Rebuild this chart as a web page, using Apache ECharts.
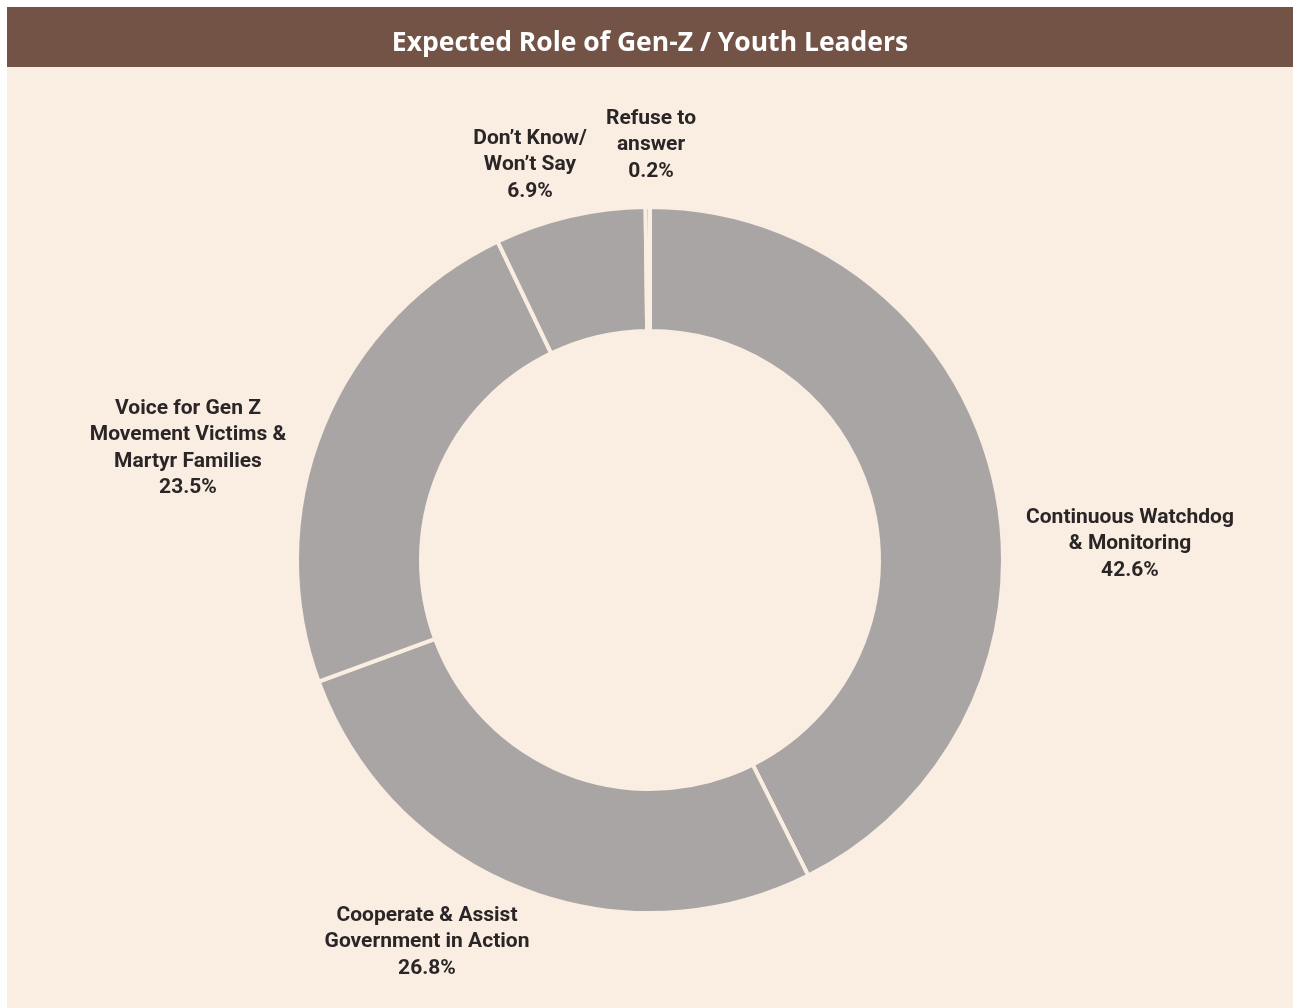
<!DOCTYPE html>
<html>
<head>
<meta charset="utf-8">
<title>Expected Role of Gen-Z / Youth Leaders</title>
<script src="https://cdn.jsdelivr.net/npm/echarts@6/dist/echarts.min.js"></script>
<style>
  html, body { margin: 0; padding: 0; background: #ffffff; }
  #roleChart { position: absolute; left: 7px; top: 7px; width: 1286px; height: 1001px; }
</style>
</head>
<body>
<div id="roleChart"></div>
<script>
const chartTitle = 'Expected Role of Gen-Z / Youth Leaders'
const roleNames = [
  'Continuous Watchdog\n& Monitoring',
  'Cooperate & Assist\nGovernment in Action',
  'Voice for Gen Z\nMovement Victims &\nMartyr Families',
  'Don\u2019t Know/\nWon\u2019t Say',
  'Refuse to\nanswer'
]
const roleShares = [42.6, 26.8, 23.5, 6.9, 0.2]

// where each label sits, relative to the ring centre (hand placed in the source)
const labelSpots = [[480, -16], [-223, 382], [-462, -112], [-120, -395], [1, -415]]
const ringCenter = [643, 553]

const chart = echarts.init(document.getElementById('roleChart'))
chart.setOption({
  backgroundColor: '#FAEDE2',
  animation: false,
  graphic: [{
    type: 'rect',
    left: 0,
    top: 0,
    shape: { width: 1286, height: 60 },
    style: { fill: '#725346' },
    silent: true
  }],
  title: {
    text: chartTitle,
    left: 'center',
    top: 18,
    textStyle: {
      color: '#ffffff',
      fontFamily: 'Open Sans',
      fontWeight: 'bold',
      fontSize: 26.5
    }
  },
  series: [{
    type: 'pie',
    center: ringCenter,
    radius: [229, 353],
    startAngle: 90,
    clockwise: true,
    avoidLabelOverlap: false,
    emphasis: { scale: false },
    itemStyle: {
      color: '#A9A5A4',
      borderColor: '#FAEDE2',
      borderWidth: 4
    },
    label: {
      show: true,
      position: 'outside',
      formatter: p => p.name + '\n' + p.value.toFixed(1) + '%',
      color: '#2A2526',
      fontFamily: 'Roboto',
      fontWeight: 'bold',
      fontSize: 21,
      lineHeight: 26.5,
      align: 'center'
    },
    labelLine: { show: false },
    labelLayout: function (params) {
      const spot = labelSpots[params.dataIndex]
      return {
        x: ringCenter[0] + spot[0],
        y: ringCenter[1] + spot[1],
        align: 'center',
        verticalAlign: 'middle'
      }
    },
    data: roleNames.map((name, i) => ({ name: name, value: roleShares[i] }))
  }]
})
</script>
</body>
</html>
